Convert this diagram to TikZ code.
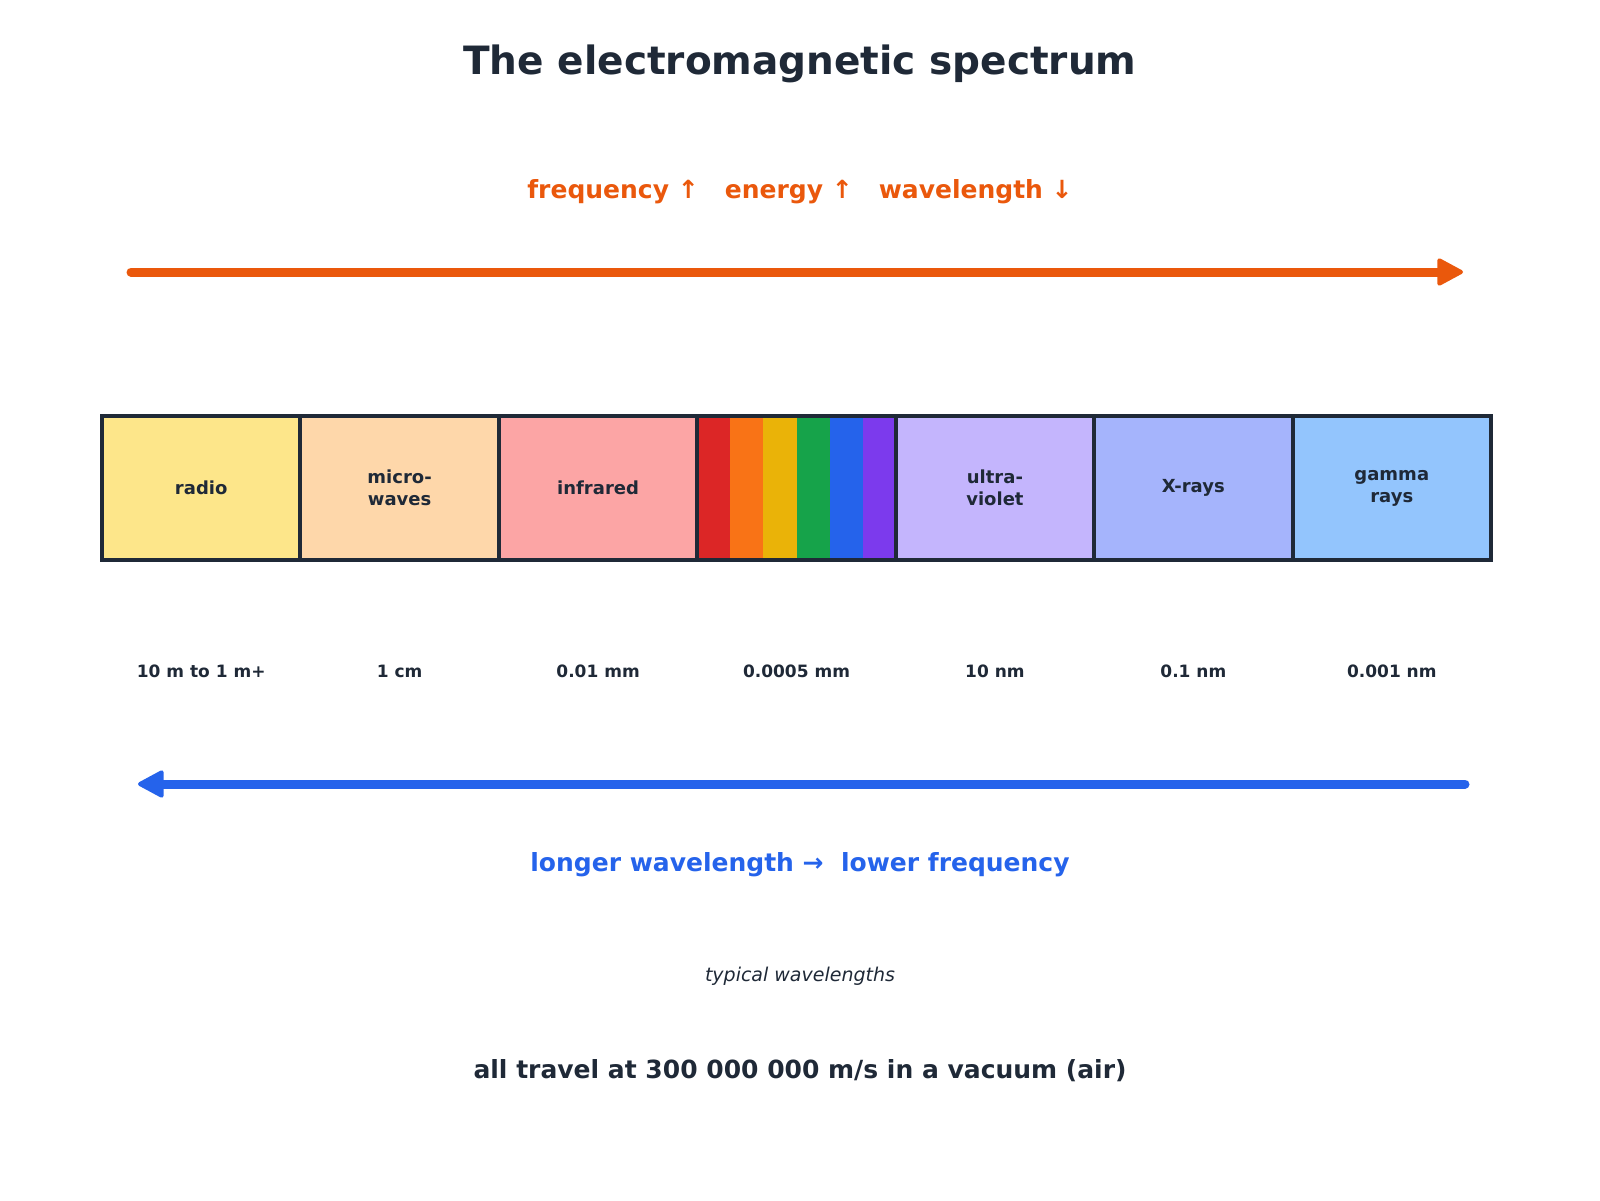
\documentclass[tikz,border=0pt]{standalone}
\usepackage{fontspec}
\setmainfont{DejaVu Sans}
\usetikzlibrary{arrows.meta,positioning,calc}

\definecolor{ink}{HTML}{1F2937}
\definecolor{hot}{HTML}{EA580C}
\definecolor{cool}{HTML}{2563EB}
\definecolor{radiofill}{HTML}{FDE68A}
\definecolor{microfill}{HTML}{FED7AA}
\definecolor{irfill}{HTML}{FCA5A5}
\definecolor{uvfill}{HTML}{C4B5FD}
\definecolor{xrayfill}{HTML}{A5B4FC}
\definecolor{gammafill}{HTML}{93C5FD}
\definecolor{sred}{HTML}{DC2626}
\definecolor{sorange}{HTML}{F97316}
\definecolor{syellow}{HTML}{EAB308}
\definecolor{sgreen}{HTML}{16A34A}
\definecolor{sblue}{HTML}{2563EB}
\definecolor{sviolet}{HTML}{7C3AED}

\begin{document}
\begin{tikzpicture}[x=1pt,y=-1pt,
    cell/.style={draw=ink,line width=4pt,minimum width=198.43pt,minimum height=144pt,
      inner sep=0pt,outer sep=0pt,align=center,text=ink,
      font=\fontsize{18}{22}\selectfont\bfseries},
    wave/.style={text=ink,font=\fontsize{17}{20}\selectfont\bfseries},
    big/.style={font=\fontsize{25}{30}\selectfont\bfseries},
    ray/.style={line width=9pt,line cap=round,
      -{Triangle[length=28pt,width=29pt,line width=4pt,round]}}]
  \useasboundingbox (0,0) rectangle (1600,1200);

  \node[text=ink,font=\fontsize{39}{46}\selectfont\bfseries] (title) at (800,64) {The electromagnetic spectrum};
  \node[big,text=hot] (trend) at (800,192) {frequency ↑\ \ \ energy ↑\ \ \ wavelength ↓};

  % upper arrow
  \coordinate (hotstart) at (131,272);
  \coordinate (hotend) at (1463,272);
  \draw[ray,hot] (hotstart) -- (hotend);

  % the bands
  \node[cell,fill=radiofill] (radio) at (201.2,488) {radio};
  \node[cell,fill=microfill,right=0pt of radio] (micro) {micro-\\waves};
  \node[cell,fill=irfill,right=0pt of micro] (ir) {infrared};
  \node[cell,right=0pt of ir] (vis) {};
  \node[cell,fill=uvfill,right=0pt of vis] (uv) {ultra-\\violet};
  \node[cell,fill=xrayfill,right=0pt of uv] (xray) {X-rays};
  \node[cell,fill=gammafill,right=0pt of xray] (gamma) {gamma\\rays};
  \foreach \c [count=\i from 0] in {sred,sorange,syellow,sgreen,sblue,sviolet}
    \fill[\c] ($(vis.north west)!{\i/6}!(vis.north east)$) rectangle ($(vis.south west)!{(\i+1)/6}!(vis.south east)$);
  \draw[ink,line width=4pt] (vis.north west) rectangle (vis.south east);

  % typical wavelengths
  \foreach \b/\len in {radio/10 m to 1 m+,micro/1 cm,ir/0.01 mm,vis/0.0005 mm,uv/10 nm,xray/0.1 nm,gamma/0.001 nm}
    \node[wave] (\b-len) at ([yshift=-183pt]\b.center) {\len};

  % lower arrow
  \coordinate (coolstart) at (1465,784);
  \coordinate (coolend) at (138,784);
  \draw[ray,cool] (coolstart) -- (coolend);

  \node[big,text=cool] (slow) at (800,865) {longer wavelength →\ \ lower frequency};
  \node[text=ink,font=\fontsize{19}{22}\selectfont\itshape] (typical) at (800,976) {typical wavelengths};
  \node[big,text=ink] (speed) at (800,1071) {all travel at 300 000 000 m/s in a vacuum (air)};
\end{tikzpicture}
\end{document}
